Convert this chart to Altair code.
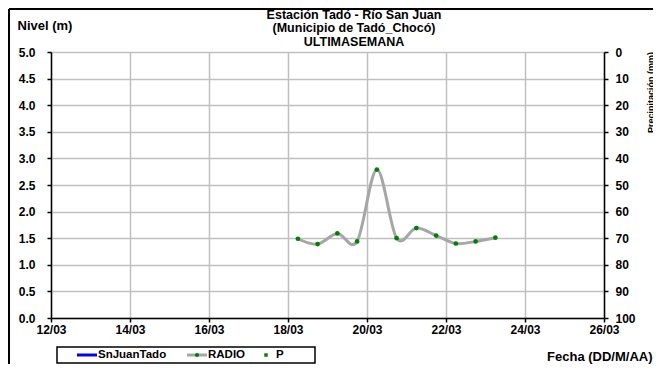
import altair as alt
import pandas as pd

# ---- data ----
fechas = [
    "2024-03-18T06:00:00Z", "2024-03-18T18:00:00Z", "2024-03-19T06:00:00Z",
    "2024-03-19T18:00:00Z", "2024-03-20T06:00:00Z", "2024-03-20T18:00:00Z",
    "2024-03-21T06:00:00Z", "2024-03-21T18:00:00Z", "2024-03-22T06:00:00Z",
    "2024-03-22T18:00:00Z", "2024-03-23T06:00:00Z",
]
nivel_radio = [1.49, 1.39, 1.59, 1.44, 2.79, 1.50, 1.69, 1.55, 1.40, 1.44, 1.51]
precip_rows = []  # no precipitation recorded in the week
y_ticks = [0.0, 0.5, 1.0, 1.5, 2.0, 2.5, 3.0, 3.5, 4.0, 4.5, 5.0]
p_ticks = [0, 10, 20, 30, 40, 50, 60, 70, 80, 90, 100]
x_tick_days = [12, 14, 16, 18, 20, 22, 24, 26]
title_lines = ["Estación Tadó - Río San Juan", "(Municipio de Tadó_Chocó)", "ULTIMASEMANA"]
legend_names = ["SnJuanTado", "RADIO", "P"]

FONT = "Liberation Sans"
GRID = "#c0c0c0"

radio = pd.DataFrame({"fecha": fechas, "nivel": nivel_radio})


def dt(d):
    return alt.DateTime(year=2024, month=3, date=d, utc=True)


x_enc = alt.X(
    "fecha:T",
    scale=alt.Scale(type="utc", domain=[dt(x_tick_days[0]), dt(x_tick_days[-1])]),
    axis=alt.Axis(
        values=[dt(d) for d in x_tick_days],
        labelExpr="utcFormat(datum.value, '%d/%m')",
        labelFlush=False, labelOverlap=False,
        grid=True, gridColor=GRID, gridWidth=1.5,
        domainColor="black", domainWidth=1.5,
        tickColor="black", tickSize=4, tickWidth=1.5,
        labelPadding=2,
        title="Fecha (DD/M/AA)", titleX=601, titleY=38,
        titleAlign="right", titleBaseline="middle",
    ),
)

y_enc = alt.Y(
    "nivel:Q",
    scale=alt.Scale(domain=[0, 5], nice=False),
    axis=alt.Axis(
        values=y_ticks, format=".1f",
        labelOverlap=False, labelFlush=False,
        grid=True, gridColor=GRID, gridWidth=1.5,
        domainColor="black", domainWidth=1.5,
        tickColor="black", tickSize=4, tickWidth=1.5,
        labelPadding=12,
        title="Nivel (m)", titleAngle=0, titleX=-34, titleY=-27,
        titleAlign="left", titleBaseline="middle",
    ),
)

line = alt.Chart(radio).mark_line(
    color="#a6a6a6", strokeWidth=3, interpolate="cardinal"
).encode(x=x_enc, y=y_enc)

points = alt.Chart(radio).mark_circle(
    color="#008000", size=22, opacity=1
).encode(x=x_enc, y=y_enc)

precip = alt.Chart(alt.Data(values=precip_rows)).mark_square(
    color="#008000", size=16, opacity=1
).encode(
    x=x_enc,
    y=alt.Y(
        "p:Q",
        scale=alt.Scale(domain=[0, 100], reverse=True, nice=False),
        axis=alt.Axis(
            orient="right", values=p_ticks, grid=False,
            labelOverlap=False, labelFlush=False,
            domainColor="black", domainWidth=1.5,
            tickColor="black", tickSize=4, tickWidth=1.5,
            labelPadding=7,
            title="Precipitación (mm)", titleAngle=270,
            titleX=42, titleY=40, titleAlign="center", titleBaseline="top",
            titleFontSize=9,
        ),
    ),
)

one = alt.Data(values=[{}])
txt = dict(font=FONT, fontSize=11.5, fontWeight="bold", color="black",
           align="left", baseline="middle")

title_mark = alt.Chart(one).mark_text(
    font=FONT, fontSize=12.5, fontWeight="bold", color="black",
    align="center", baseline="top", lineHeight=13.3,
).encode(x=alt.value(303), y=alt.value(-43), text=alt.value(title_lines))

leg_box = alt.Chart(one).mark_rect(fill="white", stroke="black", strokeWidth=1.5).encode(
    x=alt.value(6), x2=alt.value(264), y=alt.value(295), y2=alt.value(311))
leg_l1 = alt.Chart(one).mark_rule(color="#0000ff", strokeWidth=3).encode(
    x=alt.value(26), x2=alt.value(46), y=alt.value(303))
leg_t1 = alt.Chart(one).mark_text(**txt).encode(
    x=alt.value(47), y=alt.value(303), text=alt.value(legend_names[0]))
leg_l2 = alt.Chart(one).mark_rule(color="#a6a6a6", strokeWidth=3).encode(
    x=alt.value(136), x2=alt.value(156), y=alt.value(303))
leg_d2 = alt.Chart(one).mark_circle(color="#008000", size=18, opacity=1).encode(
    x=alt.value(146), y=alt.value(303))
leg_t2 = alt.Chart(one).mark_text(**txt).encode(
    x=alt.value(157), y=alt.value(303), text=alt.value(legend_names[1]))
leg_d3 = alt.Chart(one).mark_square(color="#008000", size=12, opacity=1).encode(
    x=alt.value(215), y=alt.value(303))
leg_t3 = alt.Chart(one).mark_text(**txt).encode(
    x=alt.value(225), y=alt.value(303), text=alt.value(legend_names[2]))

border_left = alt.Chart(one).mark_rule(color="black", strokeWidth=2).encode(
    x=alt.value(-42), y=alt.value(-43), y2=alt.value(330))
border_top = alt.Chart(one).mark_rule(color="black", strokeWidth=2).encode(
    x=alt.value(-42), x2=alt.value(620), y=alt.value(-43))

left_group = alt.layer(line, points)
right_group = alt.layer(precip, title_mark, leg_box, leg_l1, leg_t1, leg_l2, leg_d2,
                        leg_t2, leg_d3, leg_t3, border_left, border_top)

chart = alt.layer(left_group, right_group).resolve_scale(y="independent").properties(
    width=553,
    height=266,
    padding={"left": 43, "top": 44, "right": 49, "bottom": 46},
    autosize=alt.AutoSizeParams(type="none"),
).configure(font=FONT).configure_axis(
    labelFont=FONT, labelFontSize=12, labelFontWeight="bold", labelColor="black",
    titleFont=FONT, titleFontSize=13, titleFontWeight="bold", titleColor="black",
).configure_view(strokeWidth=0)

chart.save("out.html", embed_options={"renderer": "svg", "actions": False})
